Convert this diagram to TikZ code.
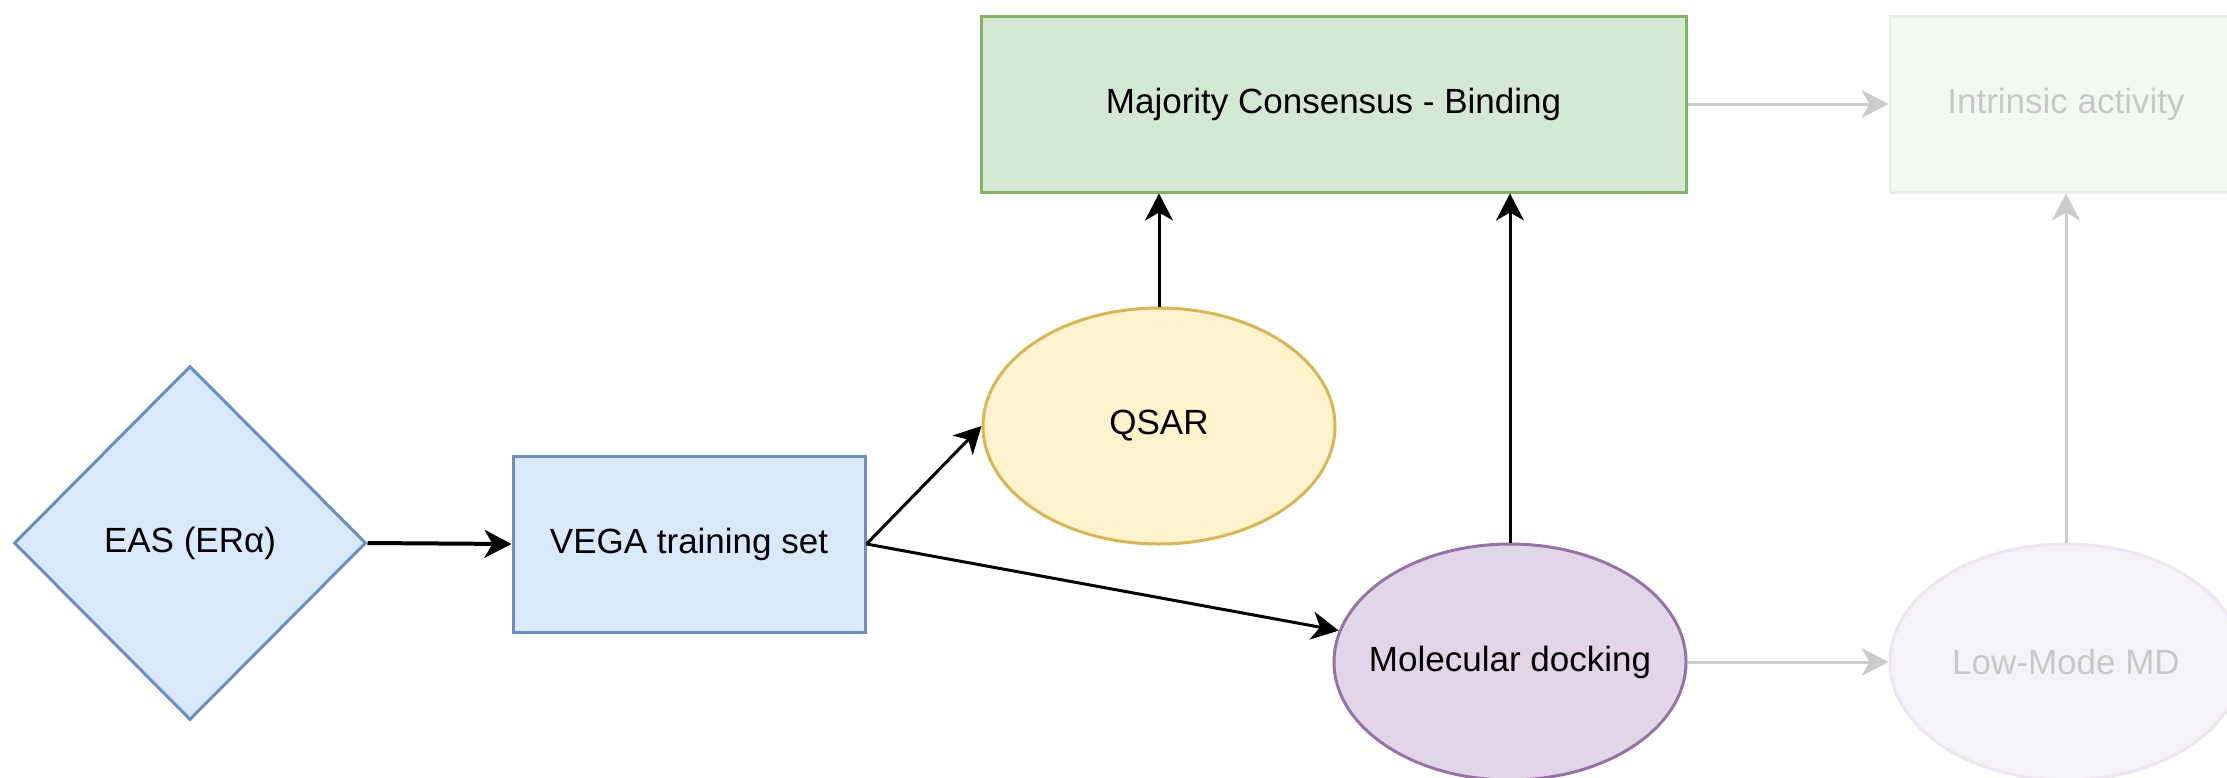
\documentclass[tikz,border=0pt]{standalone}
\usepackage{fontspec}
\setmainfont{Liberation Sans}
\usetikzlibrary{shapes.geometric,arrows.meta}
\definecolor{bluefill}{HTML}{DAE8FC}
\definecolor{bluedraw}{HTML}{6C8EBF}
\definecolor{greenfill}{HTML}{D5E8D4}
\definecolor{greendraw}{HTML}{82B366}
\definecolor{yellowfill}{HTML}{FFF2CC}
\definecolor{yellowdraw}{HTML}{D6B656}
\definecolor{purplefill}{HTML}{E1D5E7}
\definecolor{purpledraw}{HTML}{9673A6}
\definecolor{fadegreenfill}{HTML}{F3F8F2}
\definecolor{fadegreendraw}{HTML}{E6F0E5}
\definecolor{fadepurplefill}{HTML}{F6F3F8}
\definecolor{fadepurpledraw}{HTML}{ECE6F0}
\definecolor{fadetext}{HTML}{C8C8C8}
\definecolor{fadeline}{HTML}{CCCCCC}
\begin{document}
\begin{tikzpicture}[x=1pt,y=-1pt,
  shapebase/.style={draw,line width=3pt,inner sep=0pt,
    font=\fontsize{35}{42}\selectfont},
  stepbox/.style={shapebase,rectangle,minimum width=352pt,minimum height=176pt},
  stepoval/.style={shapebase,ellipse,minimum width=352pt,minimum height=236pt},
  flow/.style={line width=3pt,-{Stealth[length=27pt,width=28pt,inset=8pt]}},
  fadeflow/.style={flow,draw=fadeline}]
\useasboundingbox (0,0) rectangle (2227,777);
% input and training set
\node[shapebase,diamond,fill=bluefill,draw=bluedraw,
  minimum width=352pt,minimum height=354pt] (eas) at (190,543) {EAS (ERα)};
\node[stepbox,fill=bluefill,draw=bluedraw] (vega) at (689,544) {VEGA training set};
% models
\node[stepoval,fill=yellowfill,draw=yellowdraw] (qsar) at (1159,426) {QSAR};
\node[stepoval,fill=purplefill,draw=purpledraw] (dock) at (1510,662)
  {\makebox[0pt]{Molecular docking}};
\node[stepbox,fill=greenfill,draw=greendraw,minimum width=705pt] (cons) at (1333.5,104)
  {Majority Consensus - Binding};
% faded next steps
\node[stepbox,fill=fadegreenfill,draw=fadegreendraw,text=fadetext] (intr) at (2066,104)
  {Intrinsic activity};
\node[stepoval,fill=fadepurplefill,draw=fadepurpledraw,text=fadetext] (lmmd) at (2066,662)
  {\makebox[0pt]{Low-Mode MD}};
% connectors
\draw[flow,line width=4pt] (eas.east) -- (vega.west);
\draw[flow] (vega.east) -- (qsar.west);
\draw[flow] (vega.east) -- (dock);
\draw[flow] (qsar.north) -- (qsar.north |- cons.south);
\draw[flow] (dock.north) -- (dock.north |- cons.south);
\draw[fadeflow] (cons.east) -- (intr.west);
\draw[fadeflow] (dock.east) -- (lmmd.west);
\draw[fadeflow] (lmmd.north) -- (intr.south);
\end{tikzpicture}
\end{document}
